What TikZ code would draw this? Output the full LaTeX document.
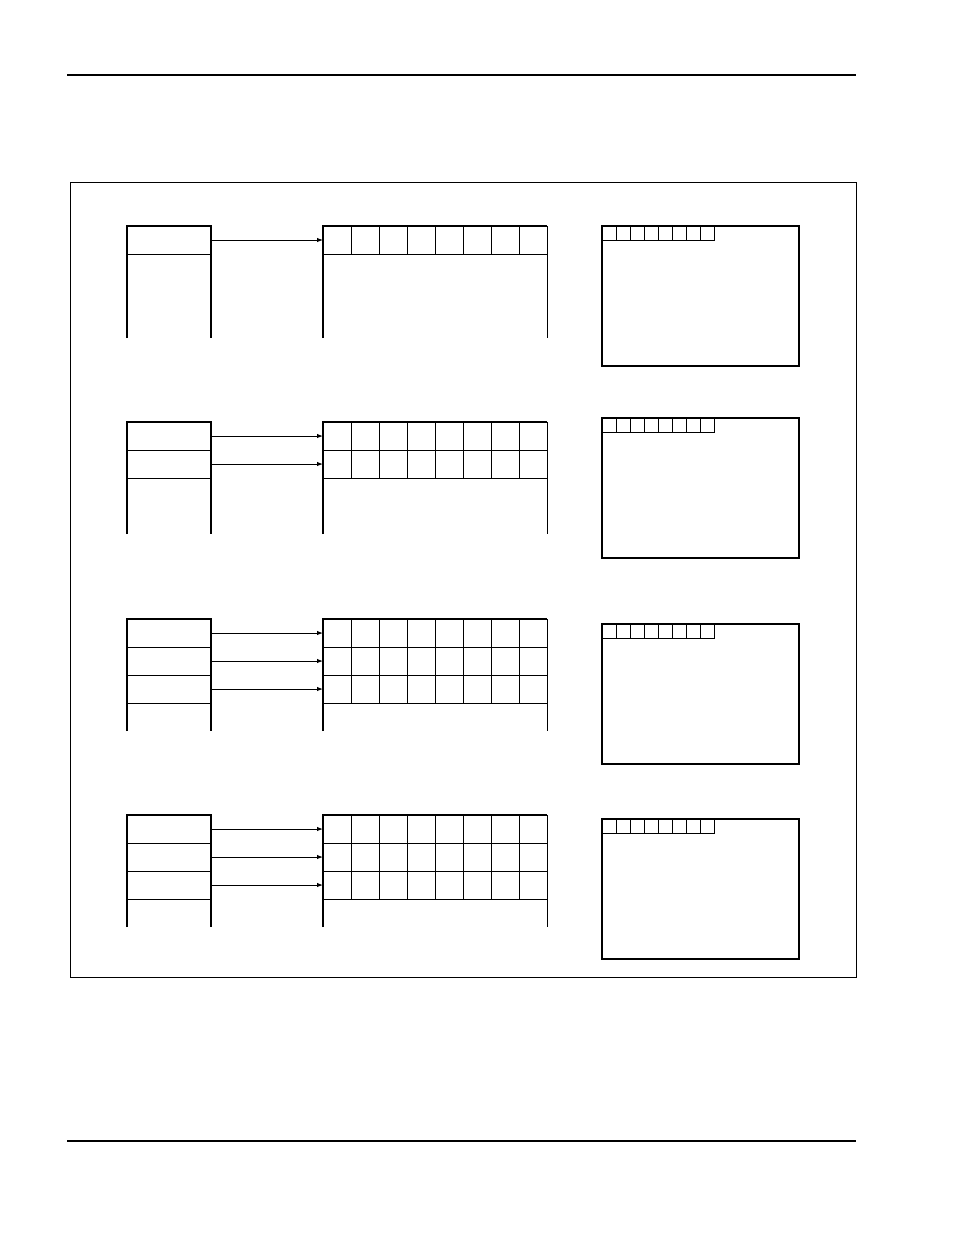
\documentclass[tikz,border=0pt]{standalone}
\usetikzlibrary{arrows.meta}
\begin{document}
\begin{tikzpicture}[x=1pt,y=-1pt,
  thinl/.style={line width=0.9pt},
  thickl/.style={line width=2pt},
  rule/.style={line width=2pt},
  frame/.style={line width=0.9pt},
  lcell/.style={draw,line width=0.9pt,minimum width=84pt,minimum height=28pt,inner sep=0pt,outer sep=0pt},
  mcell/.style={draw,line width=0.9pt,minimum width=28pt,minimum height=28pt,inner sep=0pt,outer sep=0pt},
  scell/.style={draw,line width=0.9pt,minimum width=14pt,minimum height=14pt,inner sep=0pt,outer sep=0pt},
  panel/.style={draw,line width=1.2pt,minimum width=197pt,minimum height=140pt,inner sep=0pt,outer sep=0pt},
  arr/.style={line width=1pt,-{Latex[length=6pt,width=4.5pt]}}]
\fill[white] (0,0) rectangle (954,1235);
\useasboundingbox (0,0) rectangle (954,1235);
% page rules
\coordinate (ruleTL) at (67,75);
\coordinate (ruleTR) at (856,75);
\coordinate (ruleBL) at (67,1141);
\coordinate (ruleBR) at (856,1141);
\draw[rule] (ruleTL) -- (ruleTR);
\draw[rule] (ruleBL) -- (ruleBR);
% outer frame
\draw[frame] (70,182) rectangle (856,977);
\foreach \s/\T/\n/\P in {1/226/1/226, 2/422/2/418, 3/619/3/624, 4/815/3/819}{
  \foreach \k in {1,...,\n}{
    \node[lcell] (L\s-\k) at (169,\T+28*\k-14) {};
    \foreach \c in {1,...,8}{
      \node[mcell] (M\s-\k-\c) at (323+28*\c-14,\T+28*\k-14) {};
    }
    \draw[arr] (L\s-\k.east) -- (M\s-\k-1.west);
  }
  % left table outline
  \draw[thickl] (127,\T+112) -- (127,\T) -- (211,\T) -- (211,\T+112);
  % middle table outline
  \draw[thickl] (323,\T+112) -- (323,\T) -- (547,\T);
  \draw[thinl] (547,\T) -- (547,\T+112);
  % right panel
  \node[panel] (P\s) at (700.5,\P+70) {};
  \draw[line width=1.8pt] (P\s.north west) -- (P\s.north east) -- (P\s.south east);
  \foreach \c in {1,...,8}{
    \node[scell] (S\s-\c) at (602+14*\c-7,\P+7) {};
  }
}
\end{tikzpicture}
\end{document}
